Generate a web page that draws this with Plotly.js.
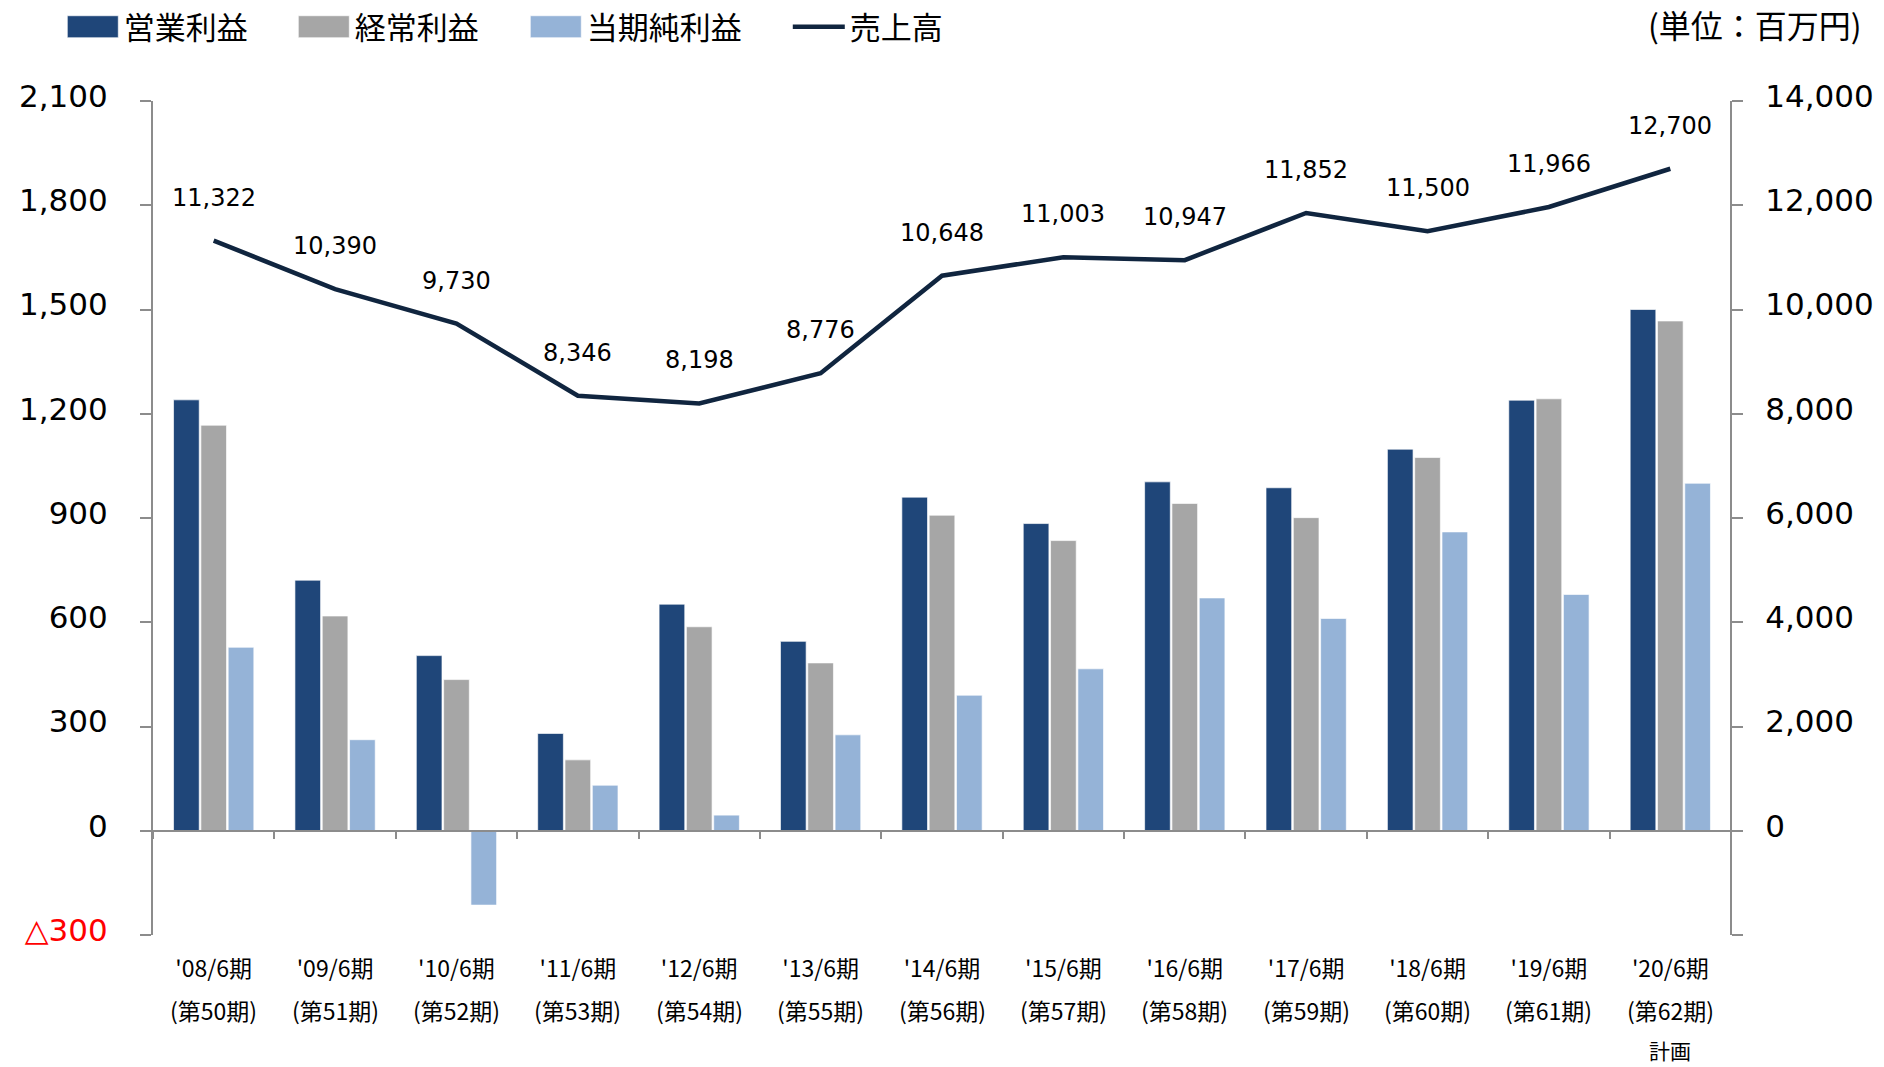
<!DOCTYPE html>
<html>
<head>
<meta charset="utf-8">
<script src="https://cdn.plot.ly/plotly-3.0.1.min.js"></script>
<style>
  html, body { margin: 0; padding: 0; background: #ffffff; }
  #chart { width: 1884px; height: 1067px; }
</style>
</head>
<body>
<div id="chart"></div>
<script>
// ---- data ----
const periods = ["'08/6期", "'09/6期", "'10/6期", "'11/6期", "'12/6期", "'13/6期", "'14/6期",
                 "'15/6期", "'16/6期", "'17/6期", "'18/6期", "'19/6期", "'20/6期"];
const terms = ["(第50期)", "(第51期)", "(第52期)", "(第53期)", "(第54期)", "(第55期)", "(第56期)",
               "(第57期)", "(第58期)", "(第59期)", "(第60期)", "(第61期)", "(第62期)"];
const notes = ["", "", "", "", "", "", "", "", "", "", "", "", "計画"];

const operatingProfit = [1240, 721, 504, 280, 652, 545, 960, 884, 1004, 987, 1098, 1239, 1500];
const ordinaryProfit  = [1167, 618, 435, 204, 587, 483, 908, 835, 942, 901, 1074, 1243, 1467];
const netProfit       = [528, 262, -214, 131, 45, 276, 390, 466, 670, 611, 860, 680, 1000];
const sales           = [11322, 10390, 9730, 8346, 8198, 8776, 10648, 11003, 10947, 11852, 11500, 11966, 12700];

const seriesNames = ["営業利益", "経常利益", "当期純利益", "売上高"];
const leftTickVals = [-300, 0, 300, 600, 900, 1200, 1500, 1800, 2100];
const leftTickText = ['<span style="color:#ff0000">△300</span>', "0", "300", "600", "900", "1,200", "1,500", "1,800", "2,100"];
const rightTickVals = [-2000, 0, 2000, 4000, 6000, 8000, 10000, 12000, 14000];
const rightTickText = ["", "0", "2,000", "4,000", "6,000", "8,000", "10,000", "12,000", "14,000"];
const unitText = "(単位：百万円)";

// ---- styles ----
const colOp = "#1f4679";
const colOrd = "#a6a6a6";
const colNet = "#95b3d7";
const colLine = "#10253f";
const axisGray = "#8c8c8c";
const jpFont = "'Noto Sans CJK JP', 'Noto Sans', sans-serif";
const numFont = "'DejaVu Sans', Verdana, sans-serif";

const barLine = { color: "rgba(255,255,255,0.65)", width: 1 };

const traces = [
  { type: "bar", name: seriesNames[0], x: periods, y: operatingProfit,
    marker: { color: colOp, line: barLine }, legendwidth: 164, hoverinfo: "y+name" },
  { type: "bar", name: seriesNames[1], x: periods, y: ordinaryProfit,
    marker: { color: colOrd, line: barLine }, legendwidth: 165, hoverinfo: "y+name" },
  { type: "bar", name: seriesNames[2], x: periods, y: netProfit,
    marker: { color: colNet, line: barLine }, legendwidth: 196, hoverinfo: "y+name" },
  { type: "scatter", mode: "lines", name: seriesNames[3], x: periods, y: sales,
    xaxis: "x2", yaxis: "y2", line: { color: colLine, width: 4.5 }, legendwidth: 110, hoverinfo: "y+name" }
];

const annotations = [];
sales.forEach((v, i) => {
  annotations.push({
    xref: "x2", yref: "y2", x: periods[i], y: v, text: v.toLocaleString("en-US"),
    showarrow: false, yshift: 43, font: { family: numFont, size: 24, color: "#000000" }
  });
});
terms.forEach((t, i) => {
  annotations.push({
    xref: "x", yref: "paper", x: periods[i], y: -0.0899, yanchor: "middle", text: t,
    showarrow: false, font: { family: jpFont, size: 23, color: "#000000" }
  });
});
notes.forEach((t, i) => {
  if (!t) return;
  annotations.push({
    xref: "x", yref: "paper", x: periods[i], y: -0.1375, yanchor: "middle", text: t,
    showarrow: false, font: { family: jpFont, size: 21, color: "#000000" }
  });
});
annotations.push({
  xref: "paper", yref: "paper", x: 1.0843, y: 1.0925, xanchor: "right", yanchor: "middle",
  text: unitText, showarrow: false, font: { family: jpFont, size: 32, color: "#000000" }
});

const layout = {
  width: 1884, height: 1067,
  margin: { l: 153, r: 153, t: 101, b: 132, autoexpand: false },
  paper_bgcolor: "#ffffff", plot_bgcolor: "#ffffff",
  barmode: "group", bargap: 0.325, bargroupgap: 0.06,
  showlegend: true,
  legend: {
    orientation: "h", x: -0.0578, xanchor: "left", y: 1.121, yanchor: "top",
    font: { family: jpFont, size: 31, color: "#000000" },
    itemwidth: 52, traceorder: "normal", bgcolor: "rgba(0,0,0,0)"
  },
  xaxis: {
    type: "category", range: [-0.5, 12.5], showline: false, ticks: "", showgrid: false,
    zeroline: false, tickfont: { family: jpFont, size: 23, color: "#000000" },
    ticklabelstandoff: 18, fixedrange: true, automargin: false
  },
  xaxis2: {
    type: "category", overlaying: "x", anchor: "free", position: 0.125, range: [-0.5, 12.5],
    showline: true, linecolor: axisGray, linewidth: 2.5, ticks: "outside", tickson: "boundaries",
    ticklen: 7, tickwidth: 2, tickcolor: axisGray, showticklabels: false, showgrid: false,
    zeroline: false, fixedrange: true, automargin: false
  },
  yaxis: {
    range: [-300, 2100], tickvals: leftTickVals, ticktext: leftTickText,
    showline: true, linecolor: axisGray, linewidth: 2, ticks: "outside", ticklen: 11,
    tickwidth: 2, tickcolor: axisGray, showgrid: false, zeroline: false,
    tickfont: { family: numFont, size: 31, color: "#000000" }, ticklabelstandoff: 26,
    ticklabelshift: -5, fixedrange: true, automargin: false
  },
  yaxis2: {
    overlaying: "y", side: "right", anchor: "free", position: 1, range: [-2000, 14000],
    tickvals: rightTickVals, ticktext: rightTickText,
    showline: true, linecolor: axisGray, linewidth: 2, ticks: "outside", ticklen: 11,
    tickwidth: 2, tickcolor: axisGray, showgrid: false, zeroline: false,
    tickfont: { family: numFont, size: 31, color: "#000000" }, ticklabelstandoff: 16,
    ticklabelshift: -5, fixedrange: true, automargin: false
  },
  annotations: annotations
};

Plotly.newPlot("chart", traces, layout, { displayModeBar: false, staticPlot: true }).then(gd => {
  // enlarge the bar legend swatches to match the wide rectangles of the original
  gd.querySelectorAll(".legend .traces").forEach(tr => {
    tr.querySelectorAll(".legendpoints path").forEach(p => {
      const d = p.getAttribute("d") || "";
      if (d.indexOf("H") >= 0 && d.indexOf("V") >= 0) {
        p.setAttribute("d", "M25.5,11H-25.5V-11H25.5Z");
      }
    });
  });
});
</script>
</body>
</html>
